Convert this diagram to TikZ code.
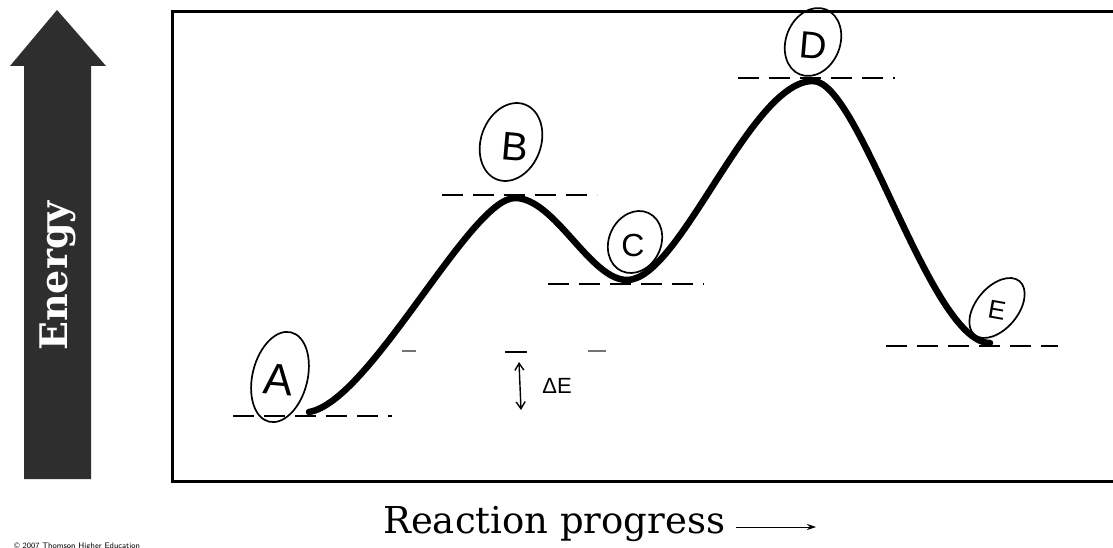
\documentclass[tikz,border=0pt]{standalone}
\usepackage{fontspec}
\newfontfamily\handfont{Liberation Sans}
\newfontfamily\labelfont{DejaVu Serif}
\usetikzlibrary{shapes.geometric,arrows.meta}
\begin{document}
\begin{tikzpicture}[x=1pt,y=-1pt,
  level/.style={line width=2.6pt, dash pattern=on 21pt off 10pt},
  curve/.style={line width=6.5pt, line cap=round},
  loop/.style={draw, ellipse, line width=1.7pt, inner sep=0pt},
  hand/.style={font=\handfont, inner sep=0pt},
  faint/.style={line width=2pt, black!55}]
\useasboundingbox (0,0) rectangle (1113,548);
\fill[white] (0,0) rectangle (1113,548);
% energy arrow
\fill[black!82] (24,479) -- (24,66) -- (10,66) -- (57,10) -- (106,66) -- (91,66) -- (91,479) -- cycle;
\node[rotate=90, text=white, font=\labelfont\bfseries\fontsize{38}{38}\selectfont] (energy) at (58,276) {Energy};
% frame
\draw[line width=3pt] (1113,12) -- (172,12) -- (172,481) -- (1113,481);
% curve points
\coordinate (A) at (309,412);
\coordinate (B) at (515,198);
\coordinate (C) at (627,280);
\coordinate (D) at (813,81);
\coordinate (E) at (990,343);
% level lines
\draw[level] (233,416) -- (392,416);
\draw[level] (442,195) -- (597,195);
\draw[level] (548,284) -- (704,284);
\draw[level] (738,78) -- (895,78);
\draw[level] (886,346) -- (1058,346);
% faint remnants
\draw[faint] (402,351) -- (416,351);
\draw[faint] (588,351) -- (606,351);
\draw[line width=2.2pt] (505,352) -- (527,352);
% energy curve
\draw[curve] (A) .. controls (370,402) and (470,198) .. (B)
  .. controls (555,198) and (590,280) .. (C)
  .. controls (680,280) and (750,81) .. (D)
  .. controls (860,81) and (930,343) .. (E);
% circled labels
\node[loop, rotate=-14, minimum width=55pt, minimum height=92pt] (cA) at (280,377) {};
\node[hand, font=\handfont\fontsize{44}{44}\selectfont, rotate=-5] (lA) at (278,380) {A};
\node[loop, rotate=-20, minimum width=60pt, minimum height=80pt] (cB) at (511,142) {};
\node[hand, font=\handfont\fontsize{40}{40}\selectfont, rotate=-5] (lB) at (515,147) {B};
\node[loop, rotate=-25, minimum width=52pt, minimum height=64pt] (cC) at (635,242) {};
\node[hand, font=\handfont\fontsize{32}{32}\selectfont] (lC) at (633,245) {C};
\node[loop, rotate=-22, minimum width=54pt, minimum height=70pt] (cD) at (813,42) {};
\node[hand, font=\handfont\fontsize{38}{38}\selectfont, rotate=-5] (lD) at (813,46) {D};
\node[loop, rotate=-40, minimum width=42pt, minimum height=70pt] (cE) at (997,308) {};
\node[hand, font=\handfont\fontsize{26}{26}\selectfont, rotate=-10] (lE) at (997,310) {E};
% Delta E
\coordinate (dt) at (519,362);
\coordinate (db) at (521,410);
\draw[line width=1.4pt, {Straight Barb[length=7pt,width=9pt]}-{Straight Barb[length=7pt,width=9pt]}] (dt) -- (db);
\node[hand, font=\handfont\fontsize{22}{22}\selectfont] (dE) at (557,386) {ΔE};
% x axis label
\node[anchor=base west, inner sep=0pt, font=\labelfont\fontsize{37}{37}\selectfont] (xlabel) at (383,533) {Reaction progress};
\coordinate (xs) at (736,527);
\coordinate (xe) at (816,527);
\draw[line width=1pt, -{Stealth[length=9pt,width=6pt]}] (xs) -- (xe);
% copyright
\node[anchor=base west, inner sep=0pt, font=\sffamily\fontsize{8}{8}\selectfont] (copy) at (14,548) {© 2007 Thomson Higher Education};
\end{tikzpicture}
\end{document}
